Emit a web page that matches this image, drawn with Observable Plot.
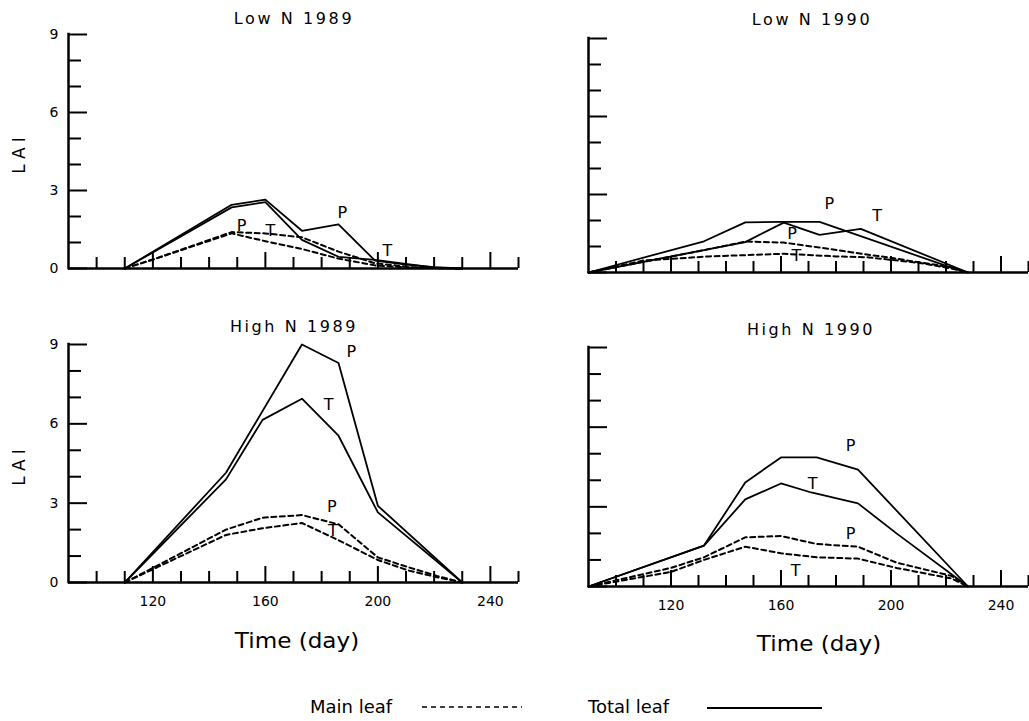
<!DOCTYPE html>
<html><head><meta charset="utf-8">
<script src="https://cdn.jsdelivr.net/npm/d3@7"></script>
<script src="https://cdn.jsdelivr.net/npm/@observablehq/plot@0.6"></script>
<style>
html,body{margin:0;padding:0;background:#fff;}
#chart{position:relative;width:1029px;height:721px;overflow:hidden;background:#fff;}
</style></head><body><div id="chart"></div>
<script>
// ---------- data ----------
const panelTitles = ["Low N 1989", "Low N 1990", "High N 1989", "High N 1990"];
const yAxisTitle = "LAI";
const xAxisTitle = "Time (day)";
const legendLabels = ["Main leaf", "Total leaf"];

const xDomain = [90, 250];
const yDomain = [0, 9];
const yTickLabels = [0, 3, 6, 9];
const yMinorTicks = [1, 2, 4, 5, 7, 8];
const xTickLabels = [120, 160, 200, 240];
const xMinorTicks = [100, 110, 130, 140, 150, 170, 180, 190, 210, 220, 230, 250];

// [day, LAI]
const lowN1989TotalP = [[110,0],[148,2.45],[160,2.65],[173,1.45],[186,1.7],[199,0.3],[210,0.15],[220,0.05],[230,0]];
const lowN1989TotalT = [[110,0],[148,2.35],[160,2.55],[173,1.1],[186,0.45],[199,0.33],[212,0.15],[221,0.02],[230,0]];
const lowN1989MainP  = [[110,0],[121,0.38],[148,1.4],[160,1.35],[173,1.2],[186,0.65],[199,0.2],[212,0.05],[230,0]];
const lowN1989MainT  = [[110,0],[121,0.38],[148,1.35],[160,1.05],[173,0.75],[186,0.38],[199,0.12],[212,0.03],[230,0]];

const lowN1990TotalP = [[90,0],[132,1.2],[147,1.93],[160,1.95],[174,1.95],[223,0.15],[228,0]];
const lowN1990TotalT = [[90,0],[147,1.17],[161,1.92],[174,1.45],[189,1.68],[228,0]];
const lowN1990MainP  = [[90,0],[132,0.86],[147,1.19],[161,1.15],[174,0.96],[186,0.77],[199,0.58],[211,0.38],[222,0.2],[228,0]];
const lowN1990MainT  = [[90,0],[110,0.46],[134,0.62],[161,0.72],[180,0.62],[192,0.58],[211,0.36],[222,0.15],[228,0]];

const highN1989TotalP = [[110,0],[146,4.15],[173,9.0],[186,8.3],[200,2.9],[230,0]];
const highN1989TotalT = [[110,0],[146,3.9],[159,6.15],[173,6.95],[186,5.55],[200,2.65],[230,0]];
const highN1989MainP  = [[110,0],[120,0.55],[146,2.0],[159,2.45],[173,2.55],[186,2.2],[200,0.95],[211,0.57],[221,0.25],[230,0]];
const highN1989MainT  = [[110,0],[120,0.5],[146,1.8],[159,2.05],[173,2.25],[186,1.6],[200,0.85],[211,0.45],[221,0.2],[230,0]];

const highN1990TotalP = [[90,0],[132,1.54],[147,3.92],[160,4.86],[173,4.86],[188,4.4],[228,0]];
const highN1990TotalT = [[90,0],[132,1.54],[147,3.28],[160,3.88],[171,3.54],[188,3.13],[202,2.0],[228,0]];
const highN1990MainP  = [[90,0],[120,0.7],[132,1.1],[147,1.85],[160,1.9],[173,1.6],[188,1.5],[202,0.9],[222,0.4],[228,0]];
const highN1990MainT  = [[90,0],[120,0.55],[132,1.0],[147,1.5],[160,1.25],[173,1.1],[188,1.05],[202,0.7],[222,0.3],[228,0]];

// [label, day, LAI]
const lowN1989Labels  = [["P",187.4,2.15],["T",203.4,0.69],["P",151.5,1.65],["T",161.8,1.46]];
const lowN1990Labels  = [["P",177.6,2.65],["T",195,2.19],["P",164,1.5],["T",165.6,0.65]];
const highN1989Labels = [["P",190.6,8.74],["T",182.5,6.73],["P",183.6,2.87],["T",184,1.97]];
const highN1990Labels = [["P",185.3,5.3],["T",171.5,3.88],["P",185.3,2.0],["T",165.3,0.6]];

// ---------- drawing ----------
const FONT = "DejaVu Sans";
const chart = document.getElementById("chart");

function rows(series, cultivar) { return series.map(([day, lai]) => ({day, lai, cultivar})); }

function panel(series, labels, box) {
  const main = [...rows(series.mainP, "P"), ...rows(series.mainT, "T")];
  const total = [...rows(series.totalP, "P"), ...rows(series.totalT, "T")];
  const marks = [
    Plot.ruleX([xDomain[0]], {y1: yDomain[0], y2: yDomain[1], strokeWidth: 2.5, strokeLinecap: "square"}),
    Plot.ruleY([yDomain[0]], {strokeWidth: 2.5}),
    Plot.axisY({ticks: yTickLabels, tickSize: -19, tickFormat: () => "", strokeWidth: 2, label: null}),
    Plot.axisY({ticks: yMinorTicks, tickSize: -13, tickFormat: () => "", strokeWidth: 2, label: null}),
    Plot.axisX({ticks: xTickLabels, tickSize: -16, tickFormat: () => "", strokeWidth: 2, label: null}),
    Plot.axisX({ticks: xMinorTicks, tickSize: -11, tickFormat: () => "", strokeWidth: 2, label: null})
  ];
  if (box.yLabels) marks.push(Plot.axisY({ticks: yTickLabels, tickSize: 0, tickPadding: 10, label: null, fontSize: 14}));
  if (box.xLabels) marks.push(Plot.axisX({ticks: xTickLabels, tickSize: 0, tickPadding: 14, label: null, fontSize: 14}));
  marks.push(Plot.line(main, {x: "day", y: "lai", z: "cultivar", stroke: "#000", strokeWidth: 2, strokeDasharray: "5,3.5"}));
  marks.push(Plot.line(total, {x: "day", y: "lai", z: "cultivar", stroke: "#000", strokeWidth: 1.8}));
  marks.push(Plot.text(labels, {x: d => d[1], y: d => d[2], text: d => d[0], fontSize: 16, fill: "#000"}));
  const svg = Plot.plot({
    width: box.width, height: box.height,
    marginLeft: box.ml, marginRight: box.mr, marginTop: box.mt, marginBottom: box.mb,
    x: {domain: xDomain}, y: {domain: yDomain},
    style: {fontFamily: FONT, fontSize: "14px", color: "#000", background: "transparent", overflow: "visible"},
    marks
  });
  svg.style.position = "absolute";
  svg.style.left = box.left + "px";
  svg.style.top = box.top + "px";
  svg.style.maxWidth = "none";
  chart.appendChild(svg);
}

panel({totalP: lowN1989TotalP, totalT: lowN1989TotalT, mainP: lowN1989MainP, mainT: lowN1989MainT}, lowN1989Labels,
  {left: 0, top: 0, width: 520, height: 290, ml: 68, mr: 2, mt: 34, mb: 22, yLabels: true, xLabels: false});
panel({totalP: lowN1990TotalP, totalT: lowN1990TotalT, mainP: lowN1990MainP, mainT: lowN1990MainT}, lowN1990Labels,
  {left: 520, top: 0, width: 509, height: 290, ml: 68, mr: 1, mt: 38, mb: 18, yLabels: false, xLabels: false});
panel({totalP: highN1989TotalP, totalT: highN1989TotalT, mainP: highN1989MainP, mainT: highN1989MainT}, highN1989Labels,
  {left: 0, top: 290, width: 520, height: 330, ml: 68, mr: 2, mt: 54, mb: 38, yLabels: true, xLabels: true});
panel({totalP: highN1990TotalP, totalT: highN1990TotalT, mainP: highN1990MainP, mainT: highN1990MainT}, highN1990Labels,
  {left: 520, top: 290, width: 509, height: 330, ml: 68, mr: 1, mt: 57, mb: 34, yLabels: false, xLabels: true});

// overlay with titles, axis titles and legend
const ov = d3.create("svg").attr("width", 1029).attr("height", 721)
  .style("position", "absolute").style("left", "0px").style("top", "0px")
  .attr("font-family", FONT).attr("fill", "#000");
function label(str, x, y, size, sx, anchor = "middle", spacing = 0) {
  ov.append("text").attr("transform", `translate(${x},${y}) scale(${sx},1)`)
    .attr("text-anchor", anchor).attr("font-size", size).attr("letter-spacing", spacing).text(str);
}
const titlePos = [[294, 24], [812, 25], [294, 332], [811, 335]];
panelTitles.forEach((t, i) => label(t, titlePos[i][0], titlePos[i][1], 16, 1, "middle", 2.6));
[[297, 648], [819, 651]].forEach(([x, y]) => label(xAxisTitle, x, y, 22, 1.05));
[[25, 153], [25, 465]].forEach(([x, y]) => {
  ov.append("text").attr("transform", `translate(${x},${y}) rotate(-90)`)
    .attr("text-anchor", "middle").attr("font-size", 17).attr("letter-spacing", 5).text(yAxisTitle);
});
label(legendLabels[0], 310, 713, 18, 1, "start");
label(legendLabels[1], 588, 713, 18, 1, "start");
ov.append("line").attr("x1", 422).attr("x2", 522).attr("y1", 707).attr("y2", 707)
  .attr("stroke", "#000").attr("stroke-width", 1.6).attr("stroke-dasharray", "5,4");
ov.append("line").attr("x1", 707).attr("x2", 822).attr("y1", 708).attr("y2", 708)
  .attr("stroke", "#000").attr("stroke-width", 2);
chart.appendChild(ov.node());
</script></body></html>
